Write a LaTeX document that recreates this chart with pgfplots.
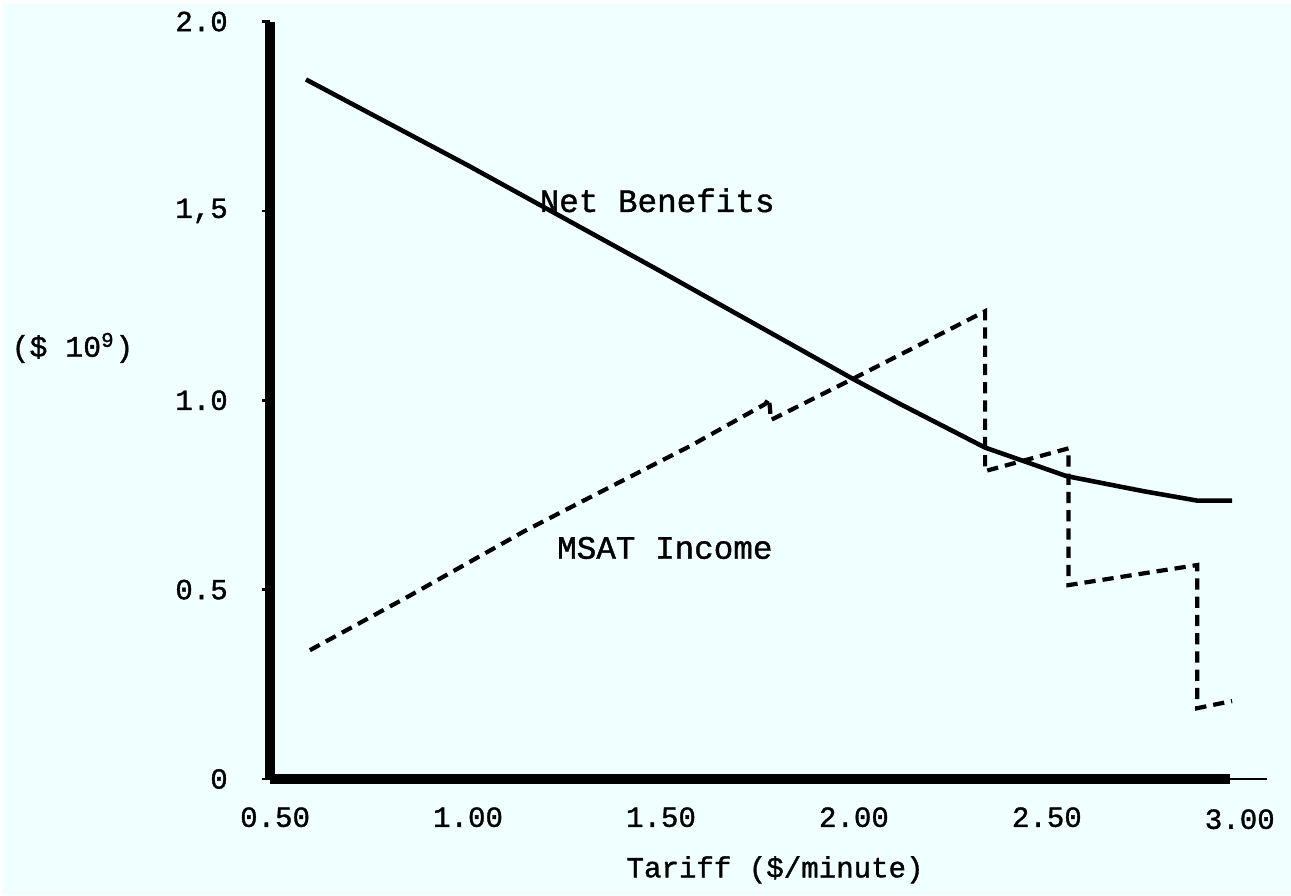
\documentclass[border=0pt]{standalone}
\usepackage{fontspec}
\setmainfont{Liberation Mono}[AutoFakeBold=1.2]
\usepackage{pgfplots}
\pgfplotsset{compat=1.18}
\definecolor{paper}{RGB}{240,255,255}
\begin{document}
\begin{tikzpicture}
% page area (12.91cm x 8.93cm)
\fill[paper] (0,0) rectangle (12.91,8.93);
\begin{axis}[
  at={(2.68cm,1.16cm)}, anchor=south west,
  scale only axis,
  width=9.62cm, height=7.59cm,
  xmin=0.487, xmax=2.975,
  ymin=0, ymax=2.0,
  axis lines=left,
  axis line style={line width=2.8pt, -},
  clip=false,
  /pgf/number format/assume math mode=true,
  font=\fontsize{8.3}{10}\selectfont\bfseries,
  xtick={0.5,1,1.5,2,2.5},
  xticklabels={0.50,1.00,1.50,2.00,2.50},
  ytick={0,0.5,1,1.5,2},
  yticklabels={0,0.5,1.0,{1,5},2.0},
  xtick style={draw=none},
  ytick style={line width=0.8pt, black},
  ytick align=outside,
  major tick length=0.08cm,
  xticklabel style={yshift=-0.12cm},
  yticklabel style={xshift=-0.22cm},
]
% Net benefits (solid)
\addplot[black, line width=1.3pt, line join=round] coordinates {
  (0.58,1.847) (1.00,1.62) (1.50,1.34) (2.00,1.055) (2.12,0.99)
  (2.34,0.875) (2.43,0.843) (2.55,0.80) (2.75,0.760) (2.89,0.735) (2.98,0.735)
};
% MSAT income (dashed)
\addplot[black, line width=1.2pt, dash pattern=on 3.2pt off 2pt] coordinates {
  (0.59,0.340) (0.847,0.483) (1.147,0.655) (1.372,0.773) (1.579,0.881) (1.77,0.99)
  (1.78,1.005) (1.785,0.948) (2.00,1.058) (2.34,1.235)
  (2.34,0.813) (2.556,0.873)
  (2.556,0.512) (2.89,0.565)
  (2.89,0.187) (2.98,0.206)
};
% thin tail of the tariff axis and its last label
\draw[line width=0.8pt] (axis cs:2.975,0) -- (axis cs:3.07,0);
\node[anchor=north, inner sep=0.333em, yshift=-0.18cm] at (axis cs:3.0,0) {3.00};
\node[font=\fontsize{9.3}{11}\selectfont\bfseries] at (axis cs:1.49,1.528) {Net Benefits};
\node[font=\fontsize{9.3}{11}\selectfont\bfseries] at (axis cs:1.51,0.61) {MSAT Income};
\end{axis}
\node[font=\fontsize{8.5}{10}\selectfont\bfseries] at (0.70,5.48) {(\$ 10\textsuperscript{9})};
\node[font=\fontsize{8.3}{10}\selectfont\bfseries] at (7.74,0.25) {Tariff (\$/minute)};
\end{tikzpicture}
\end{document}
